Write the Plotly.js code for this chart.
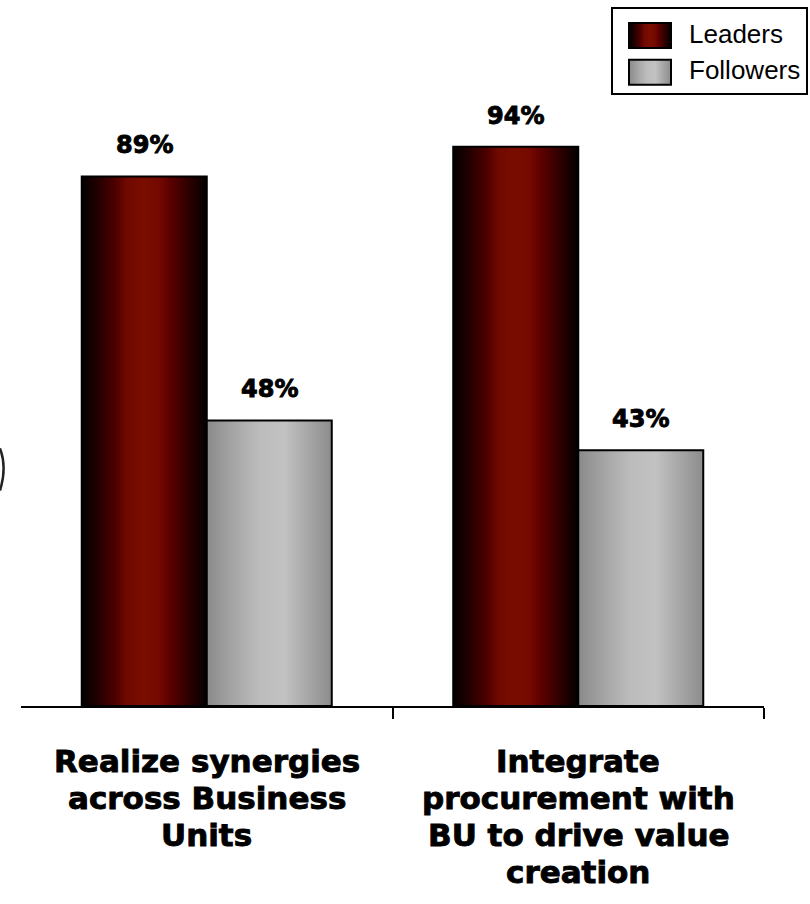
<!DOCTYPE html>
<html>
<head>
<meta charset="utf-8">
<script src="https://cdn.plot.ly/plotly-3.0.1.min.js"></script>
<style>
  html, body { margin: 0; padding: 0; background: #fff; }
  #chart { width: 810px; height: 904px; }
  /* heavier strokes for the bold chart labels */
  #chart .annotation-text { stroke: #000; stroke-width: 0.9px; paint-order: stroke fill; }
</style>
</head>
<body>
<div id="chart"></div>
<script>
// Survey shares (%) per objective, leaders vs followers
const categories = [
  "Realize synergies across Business Units",
  "Integrate procurement with BU to drive value creation"
];
const categoryLines = [
  ["Realize synergies", "across Business", "Units"],
  ["Integrate", "procurement with", "BU to drive value", "creation"]
];
const seriesNames = ["Leaders", "Followers"];
const leaders = [89, 94];
const followers = [48, 43];

const BAR_GAP = 0.327;
const LABEL_FONT = "DejaVu Sans, Verdana, sans-serif";

const gradients = {
  Leaders: [
    [0.00, "#030000"], [0.14, "#260000"], [0.28, "#520000"], [0.36, "#700900"],
    [0.50, "#7a0d00"], [0.62, "#730900"], [0.70, "#5e0000"], [0.84, "#320000"],
    [1.00, "#030000"]
  ],
  Followers: [
    [0.00, "#8a8a8a"], [0.22, "#a6a6a6"], [0.42, "#bcbcbc"], [0.62, "#c2c2c2"],
    [0.80, "#a8a8a8"], [1.00, "#8c8c8c"]
  ]
};

const seriesValues = [leaders, followers];
const baseColors = ["#6e0a00", "#b4b4b4"];

const data = seriesNames.map((name, i) => ({
  type: "bar",
  name: name,
  x: categories,
  y: seriesValues[i],
  marker: { color: baseColors[i], line: { color: "#000", width: 2 } },
  hoverinfo: "skip"
}));

// value labels above each bar, centred on the grouped bar positions
const halfStep = (1 - BAR_GAP) / 4;
const annotations = [];
seriesValues.forEach((vals, s) => {
  vals.forEach((v, c) => {
    annotations.push({
      xref: "x", yref: "y",
      x: c + (s === 0 ? -halfStep : halfStep),
      y: v,
      text: v + "%",
      showarrow: false,
      yanchor: "middle",
      yshift: 31,
      font: { family: LABEL_FONT, size: 24, weight: "bold", color: "#000" }
    });
  });
});

// multi-line category names under the axis
categoryLines.forEach((lines, c) => {
  lines.forEach((line, j) => {
    annotations.push({
      xref: "x", yref: "paper",
      x: c, y: 0,
      text: line,
      showarrow: false,
      yanchor: "middle",
      yshift: -55 - j * 37,
      font: { family: LABEL_FONT, size: 31, weight: "bold", color: "#000" }
    });
  });
});

const layout = {
  width: 810,
  height: 904,
  margin: { l: 21, r: 46, t: 111, b: 198, pad: 0, autoexpand: false },
  paper_bgcolor: "#fff",
  plot_bgcolor: "#fff",
  barmode: "group",
  bargap: BAR_GAP,
  bargroupgap: 0,
  showlegend: true,
  legend: {
    xref: "container", yref: "container",
    x: 808 / 810, xanchor: "right",
    y: 1 - 7 / 904, yanchor: "top",
    bgcolor: "#fff",
    bordercolor: "#000",
    borderwidth: 2,
    itemwidth: 66,
    font: { family: "Liberation Sans, Arial, sans-serif", size: 26, color: "#000" }
  },
  xaxis: {
    type: "category",
    range: [-0.5, 1.5],
    showline: true,
    linecolor: "#000",
    linewidth: 2,
    ticks: "outside",
    tickmode: "array",
    tickvals: [0.5, 1.5],
    ticklen: 11,
    tickwidth: 2,
    tickcolor: "#000",
    showticklabels: false,
    showgrid: false,
    zeroline: false,
    fixedrange: true
  },
  yaxis: {
    range: [0, 100],
    visible: false,
    showgrid: false,
    zeroline: false,
    fixedrange: true
  },
  annotations: annotations,
  shapes: [{
    type: "path",
    xref: "paper", yref: "paper",
    path: "M -0.0283,0.4330 Q -0.0185,0.4017 -0.0283,0.3620",
    line: { color: "#222", width: 2.5 }
  }]
};

const NS = "http://www.w3.org/2000/svg";

function addGradient(defs, id, stops) {
  const g = document.createElementNS(NS, "linearGradient");
  g.setAttribute("id", id);
  g.setAttribute("x1", "0"); g.setAttribute("y1", "0");
  g.setAttribute("x2", "1"); g.setAttribute("y2", "0");
  stops.forEach(([o, c]) => {
    const s = document.createElementNS(NS, "stop");
    s.setAttribute("offset", o);
    s.setAttribute("stop-color", c);
    g.appendChild(s);
  });
  defs.appendChild(g);
}

Plotly.newPlot("chart", data, layout, { staticPlot: true, displayModeBar: false }).then(gd => {
  const svg = gd.querySelector("svg.main-svg");
  const defs = document.createElementNS(NS, "defs");
  svg.insertBefore(defs, svg.firstChild);
  const ids = seriesNames.map(n => "fill-" + n.toLowerCase());
  seriesNames.forEach((n, i) => addGradient(defs, ids[i], gradients[n]));

  // shaded column fills
  gd.querySelectorAll(".barlayer .trace").forEach((t, i) => {
    t.querySelectorAll("path").forEach(p => { p.style.fill = "url(#" + ids[i] + ")"; });
  });

  // wider legend swatches with the same shading
  gd.querySelectorAll(".legend .traces").forEach((item, i) => {
    const p = item.querySelector(".legendpoints path");
    const txt = item.querySelector(".legendtext");
    if (!p || !txt) return;
    const pr = p.getBoundingClientRect();
    const tr = txt.getBoundingClientRect();
    const cx = (pr.left + pr.right) / 2;
    const dx = (tr.left - 18 - 21) - cx;
    const dy = 3;
    p.setAttribute("d", `M${dx - 21},${dy - 12.5}H${dx + 21}V${dy + 12.5}H${dx - 21}Z`);
    p.style.fill = "url(#" + ids[i] + ")";
    p.style.stroke = "#000";
    p.style.strokeWidth = "2px";
  });
});
</script>
</body>
</html>
